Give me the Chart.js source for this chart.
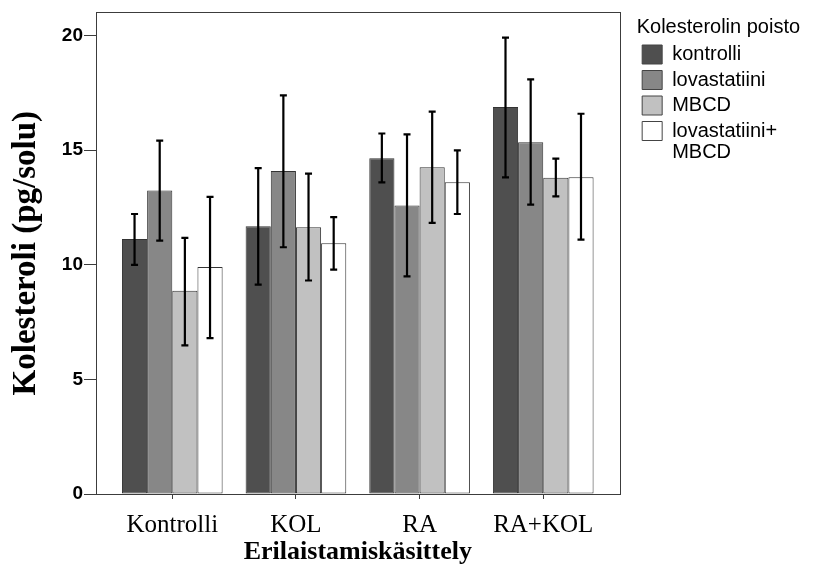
<!DOCTYPE html>
<html>
<head>
<meta charset="utf-8">
<title>Kolesteroli</title>
<script src="https://cdn.jsdelivr.net/npm/chart.js@4/dist/chart.umd.min.js"></script>
<style>
  html, body { margin: 0; padding: 0; background: #fff; }
  #wrap { width: 817px; height: 568px; }
</style>
</head>
<body>
<div id="wrap"><canvas id="myChart"></canvas></div>
<script>
const categories = ['Kontrolli', 'KOL', 'RA', 'RA+KOL'];
const seriesNames = ['kontrolli', 'lovastatiini', 'MBCD', 'lovastatiini+ MBCD'];
const legendLines = ['kontrolli', 'lovastatiini', 'MBCD', ['lovastatiini+', 'MBCD']];
const yTicks = [0, 5, 10, 15, 20];

// mean values
const kontrolli = [11.12, 11.67, 14.64, 16.87];
const lovastatiini = [13.23, 14.08, 12.58, 15.34];
const mbcd = [8.86, 11.63, 14.25, 13.79];
const lovMbcd = [9.90, 10.93, 13.59, 13.81];

// error bar ends
const kontrolliLow = [9.99, 9.13, 13.59, 13.81];
const kontrolliHigh = [12.21, 14.21, 15.72, 19.90];
const lovastatiiniLow = [11.05, 10.76, 9.49, 12.62];
const lovastatiiniHigh = [15.41, 17.38, 15.68, 18.08];
const mbcdLow = [6.48, 9.31, 11.82, 12.98];
const mbcdHigh = [11.17, 13.97, 16.67, 14.62];
const lovMbcdLow = [6.80, 9.78, 12.21, 11.09];
const lovMbcdHigh = [12.96, 12.07, 14.98, 16.58];

const values = [kontrolli, lovastatiini, mbcd, lovMbcd];
const lows = [kontrolliLow, lovastatiiniLow, mbcdLow, lovMbcdLow];
const highs = [kontrolliHigh, lovastatiiniHigh, mbcdHigh, lovMbcdHigh];
const fills = ['#4f4f4f', '#878787', '#c1c1c1', '#ffffff'];

const lineColor = '#3c3c3c';

let datasets = [];
for (let d = 0; d < values.length; d++) {
  datasets.push({
    label: seriesNames[d],
    data: values[d].map((v, i) => ({ x: i, y: v })),
    backgroundColor: fills[d],
    borderColor: '#333333',
    borderWidth: 1,
    borderSkipped: false,
    categoryPercentage: 0.814,
    barPercentage: 1
  });
}

// error bars on top of the bars
const errorBars = {
  id: 'errorBars',
  afterDatasetsDraw(chart) {
    const ctx = chart.ctx;
    const y = chart.scales.y;
    ctx.save();
    ctx.strokeStyle = '#000';
    ctx.lineWidth = 2.2;
    for (let d = 0; d < datasets.length; d++) {
      const meta = chart.getDatasetMeta(d);
      meta.data.forEach((bar, i) => {
        const top = y.getPixelForValue(highs[d][i]);
        const bottom = y.getPixelForValue(lows[d][i]);
        ctx.beginPath();
        ctx.moveTo(bar.x, top);
        ctx.lineTo(bar.x, bottom);
        ctx.moveTo(bar.x - 3.5, top);
        ctx.lineTo(bar.x + 3.5, top);
        ctx.moveTo(bar.x - 3.5, bottom);
        ctx.lineTo(bar.x + 3.5, bottom);
        ctx.stroke();
      });
    }
    ctx.restore();
  }
};

// box around the plot area, and let the legend title run past the legend box
const frame = {
  id: 'frame',
  beforeDraw(chart) {
    chart.legend.right = chart.width;
  },
  afterDraw(chart) {
    const a = chart.chartArea;
    const ctx = chart.ctx;
    ctx.save();
    ctx.strokeStyle = lineColor;
    ctx.lineWidth = 1;
    ctx.strokeRect(Math.round(a.left) + 0.5, Math.round(a.top) + 0.5, Math.round(a.right - a.left), Math.round(a.bottom - a.top));
    ctx.restore();
  }
};

Chart.defaults.font.family = "'Liberation Sans', Arial, sans-serif";
Chart.defaults.color = '#000';

const ctx = document.getElementById('myChart').getContext('2d');
const myChart = new Chart(ctx, {
  type: 'bar',
  data: { datasets: datasets },
  plugins: [errorBars, frame],
  options: {
    responsive: true,
    maintainAspectRatio: false,
    devicePixelRatio: 1,
    animation: false,
    layout: { padding: { top: 12, right: 53, bottom: 0, left: 0 } },
    plugins: {
      tooltip: { enabled: false },
      legend: {
        position: 'right',
        align: 'start',
        title: {
          display: true,
          text: 'Kolesterolin poisto',
          position: 'start',
          color: '#000',
          font: { size: 20, lineHeight: 1.0 },
          padding: { top: 5, bottom: 2 }
        },
        labels: {
          boxWidth: 20,
          boxHeight: 19,
          padding: 5.5,
          color: '#000',
          font: { size: 20, lineHeight: 1.05 },
          generateLabels: (chart) => chart.data.datasets.map((ds, i) => ({
            text: legendLines[i],
            fillStyle: ds.backgroundColor,
            strokeStyle: '#444',
            lineWidth: 1,
            hidden: false,
            datasetIndex: i,
            fontColor: '#000'
          }))
        }
      }
    },
    scales: {
      x: {
        type: 'linear',
        min: -0.617,
        max: 3.618,
        offset: false,
        afterBuildTicks: (s) => { s.ticks = categories.map((c, i) => ({ value: i })); },
        afterFit: (s) => { s.height = 74; },
        grid: { display: true, drawOnChartArea: false, offset: false, tickLength: 5, color: lineColor },
        border: { display: true, color: lineColor },
        ticks: {
          padding: 11,
          font: { family: "'Liberation Serif', 'Times New Roman', serif", size: 25 },
          color: '#000',
          callback: (v) => categories[v]
        },
        title: {
          display: true,
          text: 'Erilaistamiskäsittely',
          color: '#000',
          font: { family: "'Liberation Serif', 'Times New Roman', serif", size: 26, weight: 'bold' },
          padding: { top: 0, bottom: 0 }
        }
      },
      y: {
        min: 0,
        max: 21,
        afterBuildTicks: (s) => { s.ticks = yTicks.map((v) => ({ value: v })); },
        afterFit: (s) => { s.width = 96; },
        grid: { display: true, drawOnChartArea: false, tickLength: 12, color: lineColor },
        border: { display: true, color: lineColor },
        ticks: {
          padding: 1,
          color: '#000',
          font: { size: 19, weight: 'bold' }
        },
        title: {
          display: true,
          text: 'Kolesteroli (pg/solu)',
          color: '#000',
          font: { family: "'Liberation Serif', 'Times New Roman', serif", size: 33, weight: 'bold' },
          padding: { top: 7, bottom: 0 }
        }
      },
      spacer: {
        type: 'linear',
        axis: 'y',
        position: 'right',
        display: true,
        grid: { display: false },
        border: { display: false },
        ticks: { display: false },
        afterFit: (s) => { s.width = 17; }
      }
    }
  }
});
</script>
</body>
</html>
